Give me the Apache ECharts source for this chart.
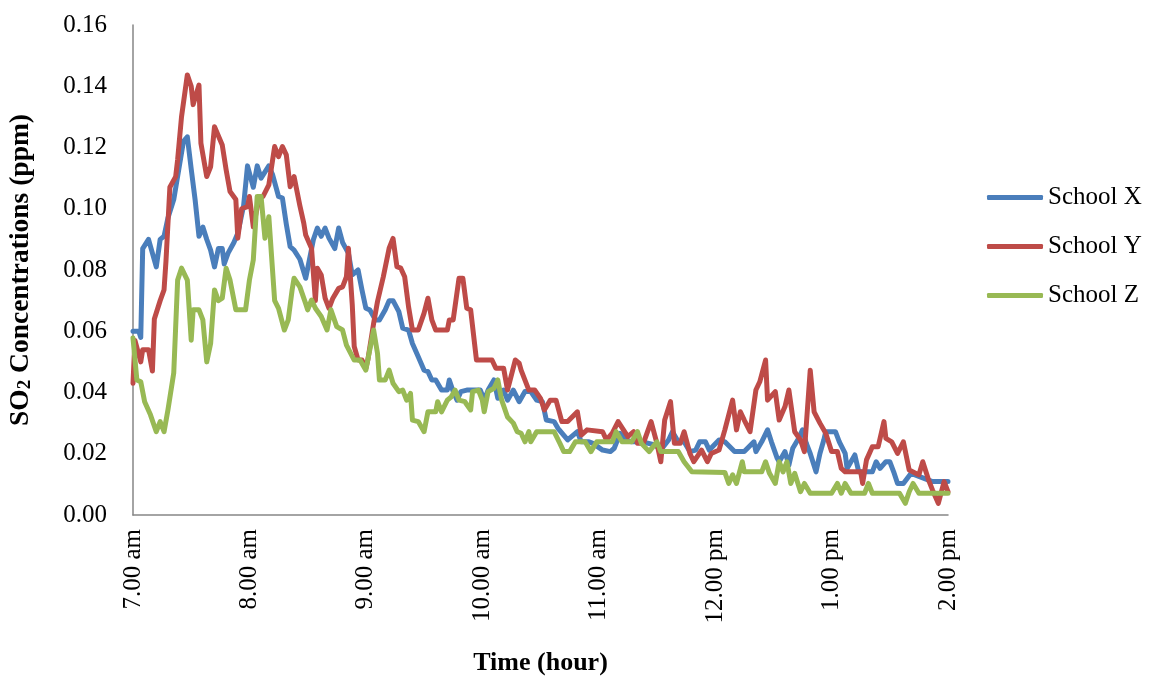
<!DOCTYPE html>
<html><head><meta charset="utf-8">
<script src="https://cdn.jsdelivr.net/npm/echarts@6/dist/echarts.min.js"></script>
<style>html,body{margin:0;padding:0;background:#fff}#chart{width:1160px;height:677px}</style>
</head><body><div id="chart"></div>
<script>
// x = minutes after 7.00 am, y = SO2 concentration (ppm)
const timeLabels = ['7.00 am','8.00 am','9.00 am','10.00 am','11.00 am','12.00 pm','1.00 pm','2.00 pm'];
const seriesNames = ['School X','School Y','School Z'];
const yTicks = [0, 0.02, 0.04, 0.06, 0.08, 0.10, 0.12, 0.14, 0.16];

const schoolX = [[0,0.060],[3,0.060],[4,0.058],[5,0.087],[8,0.090],[12,0.081],[14,0.090],[16,0.091],[18,0.097],[21,0.103],
[26,0.122],[28,0.1235],[30,0.113],[32,0.103],[34,0.091],[36,0.094],[38,0.090],[40,0.0865],[42,0.081],[44,0.087],
[46,0.087],[47,0.082],[49,0.0855],[52,0.089],[54,0.092],[57,0.101],[59,0.114],[62,0.107],[64,0.114],[66,0.110],
[70,0.114],[72,0.111],[75,0.104],[77,0.1035],[79,0.095],[81,0.0876],[83,0.0865],[86,0.0835],[89,0.0773],[90,0.0773],
[93,0.090],[95,0.0937],[97,0.091],[99,0.0937],[101,0.0904],[104,0.087],[106,0.0937],[108,0.089],[111,0.0855],[113,0.0784],
[116,0.080],[118,0.0735],[120,0.0675],[122,0.067],[125,0.0637],[127,0.0637],[130,0.067],[132,0.070],[134,0.070],[137,0.0664],
[139,0.061],[142,0.0604],[144,0.056],[147,0.0517],[150,0.0473],[152,0.0468],[154,0.0441],[156,0.0441],[159,0.0408],[162,0.0408],
[163,0.0441],[165,0.0403],[167,0.0375],[169,0.0403],[172,0.0408],[179,0.0408],[181,0.0375],[183,0.0408],[186,0.0441],[188,0.0381],
[191,0.0408],[193,0.0375],[196,0.0408],[199,0.037],[202,0.0403],[205,0.0403],[208,0.0375],[211,0.037],[213,0.031],[217,0.0305],
[219,0.0283],[224,0.0245],[229,0.0272],[231,0.0239],[235,0.0239],[237,0.0234],[242,0.0212],[246,0.0207],[248,0.0218],[251,0.0267],
[254,0.0245],[257,0.0239],[262,0.0239],[269,0.0229],[272,0.0212],[276,0.0245],[278,0.0272],[281,0.0239],[284,0.0239],[287,0.0207],
[290,0.0212],[292,0.0239],[295,0.0239],[297,0.0212],[302,0.0245],[305,0.0239],[310,0.0207],[315,0.0207],[320,0.0239],[321,0.0207],
[324,0.0239],[327,0.0278],[329,0.0239],[332,0.0185],[333,0.0174],[336,0.0207],[338,0.0163],[340,0.0218],[343,0.025],[345,0.0278],
[347,0.0234],[349,0.0201],[352,0.0141],[354,0.0201],[356,0.0245],[357,0.0272],[362,0.0272],[364,0.0239],[367,0.0201],[368,0.0152],
[372,0.0196],[374,0.0141],[381,0.0141],[383,0.0174],[385,0.0152],[388,0.0174],[390,0.0174],[392,0.0141],[394,0.0103],[397,0.0103],
[401,0.0136],[412,0.0109],[420,0.0109]];

const schoolY = [[0,0.043],[1,0.057],[4,0.050],[5,0.054],[8,0.054],[10,0.047],[11,0.064],[14,0.070],[16,0.0735],[17,0.083],
[19,0.107],[22,0.1105],[23,0.116],[25,0.130],[28,0.1437],[30,0.140],[31,0.134],[34,0.1404],[35,0.1214],[38,0.1105],
[40,0.1137],[42,0.1268],[46,0.1208],[48,0.1127],[50,0.1056],[53,0.103],[54,0.0904],[56,0.100],[59,0.1007],[60,0.104],
[62,0.0941],[65,0.1035],[67,0.104],[70,0.1078],[73,0.1203],[75,0.117],[77,0.1203],[79,0.1176],[81,0.1072],[83,0.1105],
[86,0.101],[88,0.0953],[89,0.0914],[92,0.0871],[94,0.070],[95,0.0806],[97,0.0784],[99,0.0708],[101,0.0675],[103,0.0708],
[106,0.074],[108,0.0745],[110,0.0778],[111,0.0871],[113,0.0686],[114,0.055],[116,0.0506],[118,0.0506],[120,0.0479],[121,0.0506],
[124,0.0626],[126,0.0697],[129,0.0778],[132,0.0871],[134,0.0903],[136,0.0811],[138,0.0806],[140,0.0778],[142,0.068],[144,0.0604],
[147,0.0604],[150,0.0659],[152,0.0708],[154,0.0637],[156,0.0604],[162,0.0604],[163,0.0637],[165,0.0637],[168,0.0773],[170,0.0773],
[172,0.0675],[174,0.067],[177,0.0506],[185,0.0506],[187,0.0479],[191,0.0479],[193,0.0408],[197,0.0506],[199,0.0496],[200,0.0473],
[204,0.0408],[207,0.0408],[210,0.0381],[212,0.0343],[215,0.0375],[218,0.0375],[221,0.0305],[224,0.0305],[229,0.0337],[231,0.0261],
[234,0.0278],[242,0.0272],[244,0.0245],[247,0.0267],[250,0.0305],[255,0.0256],[258,0.0272],[260,0.0234],[263,0.0234],[267,0.0305],
[270,0.0234],[272,0.0174],[274,0.031],[277,0.037],[279,0.0234],[282,0.0234],[284,0.0272],[287,0.0201],[289,0.0174],[293,0.0212],
[296,0.0174],[298,0.0201],[302,0.0212],[305,0.0278],[309,0.0375],[311,0.0278],[313,0.0337],[315,0.031],[318,0.0272],[321,0.0408],
[323,0.0435],[326,0.0506],[327,0.0375],[331,0.0403],[333,0.031],[336,0.0354],[338,0.0408],[339,0.0408],[341,0.0272],[344,0.0245],
[346,0.0207],[349,0.0473],[351,0.0337],[354,0.030],[357,0.0267],[360,0.0207],[363,0.0207],[365,0.0152],[367,0.0141],[375,0.0141],
[376,0.0103],[378,0.018],[381,0.0223],[384,0.0223],[387,0.0305],[388,0.025],[391,0.0239],[394,0.0201],[397,0.0239],[400,0.0147],
[405,0.0131],[407,0.0174],[410,0.0114],[412,0.0082],[415,0.0038],[418,0.0109],[420,0.0076]];

const schoolZ = [[0,0.0578],[2,0.0441],[4,0.0435],[6,0.037],[9,0.0327],[12,0.0272],[14,0.0305],[16,0.0272],[18,0.0343],[21,0.0464],
[23,0.0767],[25,0.0806],[28,0.0767],[30,0.0571],[31,0.067],[34,0.067],[36,0.0637],[38,0.050],[40,0.056],[42,0.0735],
[44,0.070],[46,0.0708],[48,0.0806],[50,0.0767],[53,0.067],[58,0.067],[60,0.0767],[62,0.0833],[64,0.104],[66,0.104],
[68,0.0904],[70,0.0974],[73,0.070],[75,0.0675],[78,0.0604],[80,0.0637],[82,0.0735],[83,0.0773],[86,0.0745],[89,0.069],
[90,0.067],[92,0.0702],[94,0.0675],[95,0.067],[97,0.0648],[100,0.0604],[102,0.067],[105,0.0615],[108,0.0604],[110,0.0555],
[114,0.0506],[117,0.0506],[120,0.0473],[121,0.0506],[124,0.0604],[126,0.0528],[127,0.0441],[130,0.0441],[132,0.0473],[134,0.043],
[137,0.0403],[139,0.0408],[141,0.0375],[143,0.0397],[144,0.031],[147,0.0305],[150,0.0272],[152,0.0337],[156,0.0337],[157,0.037],
[159,0.0337],[162,0.0375],[164,0.0386],[166,0.0408],[168,0.0375],[171,0.037],[174,0.0343],[175,0.0403],[178,0.0408],[180,0.0375],
[181,0.0337],[183,0.0403],[186,0.0414],[188,0.0441],[190,0.0375],[193,0.032],[196,0.030],[198,0.0272],[200,0.0267],[202,0.0239],
[204,0.0272],[205,0.0239],[208,0.0272],[217,0.0272],[220,0.0234],[222,0.0207],[225,0.0207],[228,0.0239],[233,0.0239],[236,0.0207],
[239,0.0239],[247,0.0239],[249,0.0272],[252,0.0239],[257,0.0239],[260,0.0272],[262,0.0234],[266,0.0207],[270,0.0239],[272,0.0207],
[281,0.0207],[284,0.0174],[285,0.0169],[288,0.0141],[305,0.0139],[307,0.0103],[309,0.0131],[311,0.0103],[314,0.0174],[315,0.0141],
[324,0.0141],[326,0.0174],[328,0.0136],[331,0.0103],[333,0.0174],[335,0.0141],[337,0.0174],[339,0.0103],[341,0.0136],[344,0.0076],
[346,0.0103],[349,0.0071],[360,0.0071],[363,0.0103],[365,0.0071],[367,0.0103],[370,0.0071],[377,0.0071],[379,0.0103],[381,0.0071],
[395,0.0071],[398,0.0038],[400,0.0076],[402,0.0103],[405,0.0071],[420,0.0071]];

const font = "'Liberation Serif','Times New Roman',serif";
const chart = echarts.init(document.getElementById('chart'), null, {renderer: 'canvas'});
const mkSeries = (name, data) => ({
  name, type: 'line', data, symbol: 'none', showSymbol: false, smooth: false,
  lineStyle: {width: 5, join: 'round', cap: 'round'}
});
chart.setOption({
  animation: false,
  backgroundColor: '#ffffff',
  color: ['#4A7EBB', '#BE4B48', '#98B954'],
  grid: {left: 133, right: 212, top: 25, bottom: 162, containLabel: false, outerBoundsMode: 'none'},
  legend: {
    orient: 'vertical', left: 982, top: 178, padding: 5,
    icon: 'roundRect', itemWidth: 56, itemHeight: 5, itemGap: 20,
    data: seriesNames,
    textStyle: {fontFamily: font, fontSize: 25, color: '#000', lineHeight: 29}
  },
  xAxis: {
    type: 'value', min: 0, max: 420, interval: 60,
    axisLine: {lineStyle: {color: '#868686', width: 1.5}},
    axisTick: {show: false}, splitLine: {show: false},
    axisLabel: {rotate: 90, margin: 14, fontFamily: font, fontSize: 25, color: '#000',
      formatter: v => timeLabels[Math.round(v / 60)]},
    name: 'Time (hour)', nameLocation: 'middle', nameGap: 135,
    nameTextStyle: {fontFamily: font, fontSize: 26, fontWeight: 'bold', color: '#000'}
  },
  yAxis: {
    type: 'value', min: yTicks[0], max: yTicks[yTicks.length - 1], interval: 0.02,
    axisLine: {show: true, lineStyle: {color: '#868686', width: 1.5}},
    axisTick: {show: false}, splitLine: {show: false},
    axisLabel: {margin: 26, fontFamily: font, fontSize: 25, color: '#000', formatter: v => v.toFixed(2)},
    name: 'SO{sub|2} Concentrations (ppm)', nameLocation: 'middle', nameGap: 98, nameRotate: 90,
    nameTextStyle: {fontFamily: font, fontSize: 27.5, fontWeight: 'bold', color: '#000',
      rich: {sub: {fontFamily: font, fontSize: 19, fontWeight: 'bold', color: '#000', verticalAlign: 'bottom', padding: [9, 0, 0, 0]}}}
  },
  series: [mkSeries(seriesNames[0], schoolX), mkSeries(seriesNames[1], schoolY), mkSeries(seriesNames[2], schoolZ)]
});
</script></body></html>
